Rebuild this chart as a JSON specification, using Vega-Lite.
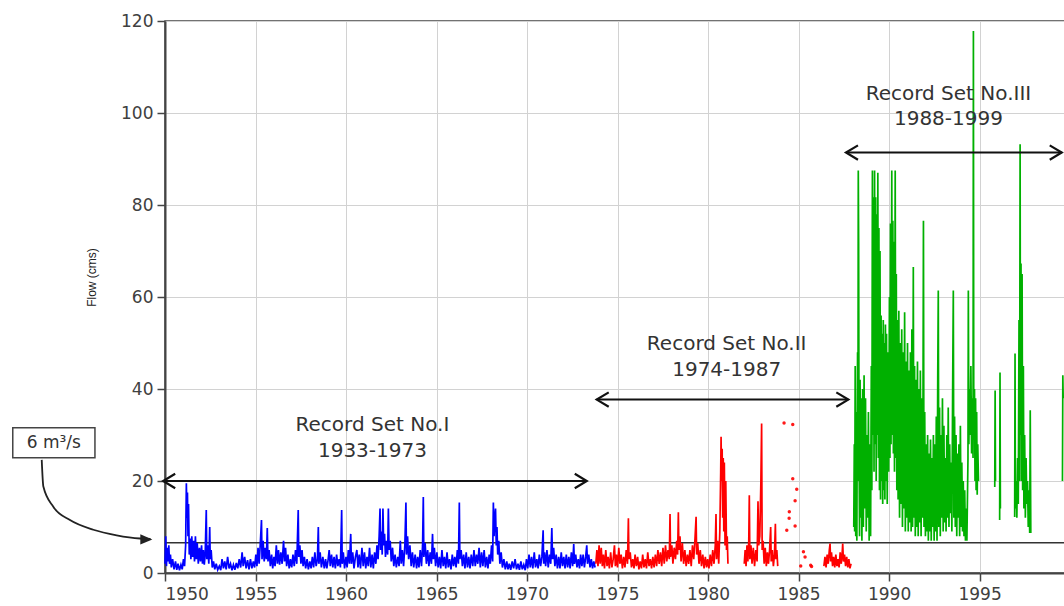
{
"$schema": "https://vega.github.io/schema/vega-lite/v6.json",
"width": 900, "height": 552,
"autosize": {"type": "none"},
"padding": {"left": 165, "top": 21, "right": 0, "bottom": 33},
"background": "white",
"config": {
  "view": {"stroke": "#444", "strokeWidth": 1.5},
  "axis": {"grid": true, "gridColor": "#d2d2d2", "gridWidth": 1, "domainColor": "#444", "domainWidth": 2, "tickColor": "#444", "tickWidth": 1.5, "tickSize": 8, "labelFont": "DejaVu Sans", "labelFontSize": 17, "labelColor": "#404040", "labelPadding": 4, "titleFont": "Liberation Sans", "titleFontSize": 12, "titleFontWeight": "normal", "titleColor": "#222"}
},
"datasets": {
"flow": [
{"t":1950.00,"q":2.0,"g":"I"},{"t":1950.04,"q":8.0,"g":"I"},{"t":1950.08,"q":1.5,"g":"I"},{"t":1950.12,"q":5.5,"g":"I"},{"t":1950.17,"q":2.5,"g":"I"},{"t":1950.21,"q":6.0,"g":"I"},{"t":1950.25,"q":2.0,"g":"I"},{"t":1950.30,"q":4.0,"g":"I"},{"t":1950.35,"q":1.2,"g":"I"},{"t":1950.42,"q":3.0,"g":"I"},{"t":1950.50,"q":0.8,"g":"I"},{"t":1950.58,"q":2.5,"g":"I"},{"t":1950.65,"q":0.7,"g":"I"},{"t":1950.72,"q":2.0,"g":"I"},{"t":1950.80,"q":0.6,"g":"I"},{"t":1950.88,"q":1.8,"g":"I"},{"t":1950.95,"q":0.8,"g":"I"},
{"t":1951.02,"q":3.0,"g":"I"},{"t":1951.08,"q":1.5,"g":"I"},{"t":1951.14,"q":6.0,"g":"I"},{"t":1951.18,"q":19.5,"g":"I"},{"t":1951.21,"q":12.0,"g":"I"},{"t":1951.24,"q":17.5,"g":"I"},{"t":1951.27,"q":8.0,"g":"I"},{"t":1951.30,"q":15.0,"g":"I"},{"t":1951.34,"q":4.0,"g":"I"},{"t":1951.38,"q":7.5,"g":"I"},{"t":1951.43,"q":3.0,"g":"I"},{"t":1951.48,"q":8.0,"g":"I"},{"t":1951.53,"q":3.5,"g":"I"},{"t":1951.58,"q":7.0,"g":"I"},{"t":1951.63,"q":2.5,"g":"I"},{"t":1951.68,"q":8.0,"g":"I"},{"t":1951.73,"q":3.0,"g":"I"},{"t":1951.78,"q":6.5,"g":"I"},{"t":1951.84,"q":2.0,"g":"I"},{"t":1951.90,"q":5.5,"g":"I"},{"t":1951.96,"q":2.5,"g":"I"},
{"t":1952.02,"q":6.0,"g":"I"},{"t":1952.07,"q":2.0,"g":"I"},{"t":1952.12,"q":5.0,"g":"I"},{"t":1952.17,"q":1.8,"g":"I"},{"t":1952.22,"q":4.0,"g":"I"},{"t":1952.28,"q":13.7,"g":"I"},{"t":1952.31,"q":3.0,"g":"I"},{"t":1952.36,"q":6.0,"g":"I"},{"t":1952.42,"q":2.0,"g":"I"},{"t":1952.47,"q":10.0,"g":"I"},{"t":1952.50,"q":3.0,"g":"I"},{"t":1952.55,"q":5.0,"g":"I"},{"t":1952.61,"q":1.2,"g":"I"},{"t":1952.68,"q":2.5,"g":"I"},{"t":1952.75,"q":0.8,"g":"I"},{"t":1952.83,"q":2.0,"g":"I"},{"t":1952.91,"q":0.7,"g":"I"},
{"t":1953.00,"q":1.5,"g":"I"},{"t":1953.08,"q":0.6,"g":"I"},{"t":1953.15,"q":3.0,"g":"I"},{"t":1953.23,"q":1.0,"g":"I"},{"t":1953.30,"q":2.5,"g":"I"},{"t":1953.38,"q":0.8,"g":"I"},{"t":1953.46,"q":3.5,"g":"I"},{"t":1953.54,"q":1.0,"g":"I"},{"t":1953.62,"q":2.0,"g":"I"},{"t":1953.70,"q":0.6,"g":"I"},{"t":1953.78,"q":1.8,"g":"I"},{"t":1953.86,"q":0.7,"g":"I"},{"t":1953.94,"q":2.2,"g":"I"},
{"t":1954.02,"q":1.0,"g":"I"},{"t":1954.10,"q":3.0,"g":"I"},{"t":1954.18,"q":1.2,"g":"I"},{"t":1954.26,"q":4.5,"g":"I"},{"t":1954.32,"q":1.5,"g":"I"},{"t":1954.40,"q":3.5,"g":"I"},{"t":1954.48,"q":1.0,"g":"I"},{"t":1954.56,"q":2.8,"g":"I"},{"t":1954.64,"q":0.8,"g":"I"},{"t":1954.72,"q":3.0,"g":"I"},{"t":1954.80,"q":1.0,"g":"I"},{"t":1954.88,"q":2.5,"g":"I"},{"t":1954.95,"q":1.2,"g":"I"},
{"t":1955.02,"q":4.0,"g":"I"},{"t":1955.08,"q":1.5,"g":"I"},{"t":1955.14,"q":5.5,"g":"I"},{"t":1955.20,"q":2.0,"g":"I"},{"t":1955.26,"q":6.0,"g":"I"},{"t":1955.33,"q":11.5,"g":"I"},{"t":1955.36,"q":3.0,"g":"I"},{"t":1955.42,"q":7.0,"g":"I"},{"t":1955.48,"q":2.5,"g":"I"},{"t":1955.54,"q":5.5,"g":"I"},{"t":1955.60,"q":3.0,"g":"I"},{"t":1955.65,"q":9.8,"g":"I"},{"t":1955.69,"q":2.5,"g":"I"},{"t":1955.75,"q":5.0,"g":"I"},{"t":1955.82,"q":1.5,"g":"I"},{"t":1955.89,"q":4.0,"g":"I"},{"t":1955.95,"q":1.0,"g":"I"},
{"t":1956.02,"q":3.5,"g":"I"},{"t":1956.08,"q":1.5,"g":"I"},{"t":1956.15,"q":6.0,"g":"I"},{"t":1956.21,"q":2.0,"g":"I"},{"t":1956.27,"q":5.0,"g":"I"},{"t":1956.33,"q":1.8,"g":"I"},{"t":1956.40,"q":4.5,"g":"I"},{"t":1956.47,"q":2.0,"g":"I"},{"t":1956.55,"q":7.0,"g":"I"},{"t":1956.60,"q":2.5,"g":"I"},{"t":1956.66,"q":5.5,"g":"I"},{"t":1956.72,"q":1.5,"g":"I"},{"t":1956.79,"q":4.0,"g":"I"},{"t":1956.86,"q":1.0,"g":"I"},{"t":1956.93,"q":3.0,"g":"I"},
{"t":1957.00,"q":1.2,"g":"I"},{"t":1957.07,"q":4.0,"g":"I"},{"t":1957.14,"q":1.5,"g":"I"},{"t":1957.21,"q":5.0,"g":"I"},{"t":1957.28,"q":2.0,"g":"I"},{"t":1957.36,"q":13.7,"g":"I"},{"t":1957.39,"q":3.5,"g":"I"},{"t":1957.45,"q":6.0,"g":"I"},{"t":1957.51,"q":2.0,"g":"I"},{"t":1957.57,"q":5.0,"g":"I"},{"t":1957.63,"q":1.5,"g":"I"},{"t":1957.70,"q":3.5,"g":"I"},{"t":1957.77,"q":1.0,"g":"I"},{"t":1957.85,"q":3.0,"g":"I"},{"t":1957.92,"q":0.8,"g":"I"},
{"t":1958.00,"q":2.5,"g":"I"},{"t":1958.07,"q":1.0,"g":"I"},{"t":1958.14,"q":3.5,"g":"I"},{"t":1958.21,"q":1.2,"g":"I"},{"t":1958.28,"q":4.5,"g":"I"},{"t":1958.35,"q":1.5,"g":"I"},{"t":1958.42,"q":3.0,"g":"I"},{"t":1958.47,"q":10.0,"g":"I"},{"t":1958.50,"q":2.0,"g":"I"},{"t":1958.57,"q":4.5,"g":"I"},{"t":1958.64,"q":1.2,"g":"I"},{"t":1958.72,"q":3.5,"g":"I"},{"t":1958.80,"q":1.0,"g":"I"},{"t":1958.87,"q":3.0,"g":"I"},{"t":1958.94,"q":1.0,"g":"I"},
{"t":1959.00,"q":2.5,"g":"I"},{"t":1959.07,"q":5.0,"g":"I"},{"t":1959.13,"q":1.5,"g":"I"},{"t":1959.20,"q":4.0,"g":"I"},{"t":1959.27,"q":1.2,"g":"I"},{"t":1959.34,"q":3.5,"g":"I"},{"t":1959.41,"q":1.0,"g":"I"},{"t":1959.48,"q":4.0,"g":"I"},{"t":1959.55,"q":1.5,"g":"I"},{"t":1959.62,"q":3.0,"g":"I"},{"t":1959.69,"q":1.2,"g":"I"},{"t":1959.76,"q":13.7,"g":"I"},{"t":1959.79,"q":2.0,"g":"I"},{"t":1959.85,"q":4.5,"g":"I"},{"t":1959.92,"q":1.0,"g":"I"},
{"t":1960.00,"q":3.5,"g":"I"},{"t":1960.06,"q":1.2,"g":"I"},{"t":1960.13,"q":5.0,"g":"I"},{"t":1960.19,"q":2.0,"g":"I"},{"t":1960.26,"q":8.5,"g":"I"},{"t":1960.30,"q":2.0,"g":"I"},{"t":1960.37,"q":4.5,"g":"I"},{"t":1960.44,"q":1.0,"g":"I"},{"t":1960.52,"q":3.5,"g":"I"},{"t":1960.60,"q":5.0,"g":"I"},{"t":1960.66,"q":1.2,"g":"I"},{"t":1960.73,"q":4.0,"g":"I"},{"t":1960.80,"q":1.0,"g":"I"},{"t":1960.88,"q":5.5,"g":"I"},{"t":1960.95,"q":1.5,"g":"I"},
{"t":1961.02,"q":4.5,"g":"I"},{"t":1961.09,"q":1.0,"g":"I"},{"t":1961.16,"q":3.5,"g":"I"},{"t":1961.23,"q":1.5,"g":"I"},{"t":1961.30,"q":5.5,"g":"I"},{"t":1961.37,"q":1.2,"g":"I"},{"t":1961.44,"q":4.0,"g":"I"},{"t":1961.51,"q":1.0,"g":"I"},{"t":1961.58,"q":4.5,"g":"I"},{"t":1961.65,"q":2.0,"g":"I"},{"t":1961.71,"q":6.0,"g":"I"},{"t":1961.77,"q":3.0,"g":"I"},{"t":1961.83,"q":8.0,"g":"I"},{"t":1961.88,"q":14.0,"g":"I"},{"t":1961.91,"q":5.0,"g":"I"},{"t":1961.96,"q":9.0,"g":"I"},
{"t":1962.00,"q":4.0,"g":"I"},{"t":1962.04,"q":14.0,"g":"I"},{"t":1962.08,"q":6.0,"g":"I"},{"t":1962.13,"q":8.5,"g":"I"},{"t":1962.18,"q":3.5,"g":"I"},{"t":1962.24,"q":7.0,"g":"I"},{"t":1962.30,"q":4.0,"g":"I"},{"t":1962.34,"q":14.0,"g":"I"},{"t":1962.38,"q":5.0,"g":"I"},{"t":1962.44,"q":7.0,"g":"I"},{"t":1962.50,"q":2.5,"g":"I"},{"t":1962.57,"q":5.5,"g":"I"},{"t":1962.64,"q":1.5,"g":"I"},{"t":1962.71,"q":4.0,"g":"I"},{"t":1962.78,"q":1.2,"g":"I"},{"t":1962.86,"q":3.5,"g":"I"},{"t":1962.93,"q":1.5,"g":"I"},
{"t":1963.00,"q":7.0,"g":"I"},{"t":1963.05,"q":2.0,"g":"I"},{"t":1963.11,"q":5.0,"g":"I"},{"t":1963.18,"q":1.5,"g":"I"},{"t":1963.25,"q":6.0,"g":"I"},{"t":1963.31,"q":15.3,"g":"I"},{"t":1963.34,"q":4.0,"g":"I"},{"t":1963.40,"q":8.0,"g":"I"},{"t":1963.46,"q":3.0,"g":"I"},{"t":1963.53,"q":6.0,"g":"I"},{"t":1963.60,"q":1.5,"g":"I"},{"t":1963.67,"q":4.5,"g":"I"},{"t":1963.74,"q":1.2,"g":"I"},{"t":1963.82,"q":4.0,"g":"I"},{"t":1963.90,"q":1.0,"g":"I"},{"t":1963.96,"q":3.5,"g":"I"},
{"t":1964.03,"q":1.2,"g":"I"},{"t":1964.10,"q":5.0,"g":"I"},{"t":1964.17,"q":1.5,"g":"I"},{"t":1964.23,"q":6.0,"g":"I"},{"t":1964.27,"q":16.5,"g":"I"},{"t":1964.30,"q":3.5,"g":"I"},{"t":1964.37,"q":6.5,"g":"I"},{"t":1964.44,"q":2.0,"g":"I"},{"t":1964.51,"q":5.0,"g":"I"},{"t":1964.58,"q":1.5,"g":"I"},{"t":1964.65,"q":4.5,"g":"I"},{"t":1964.72,"q":2.0,"g":"I"},{"t":1964.78,"q":8.5,"g":"I"},{"t":1964.82,"q":3.0,"g":"I"},{"t":1964.88,"q":5.5,"g":"I"},{"t":1964.95,"q":1.5,"g":"I"},
{"t":1965.02,"q":4.5,"g":"I"},{"t":1965.09,"q":1.2,"g":"I"},{"t":1965.16,"q":3.5,"g":"I"},{"t":1965.23,"q":1.0,"g":"I"},{"t":1965.30,"q":5.0,"g":"I"},{"t":1965.37,"q":1.5,"g":"I"},{"t":1965.44,"q":3.5,"g":"I"},{"t":1965.51,"q":1.0,"g":"I"},{"t":1965.58,"q":4.5,"g":"I"},{"t":1965.65,"q":1.2,"g":"I"},{"t":1965.72,"q":3.0,"g":"I"},{"t":1965.80,"q":0.8,"g":"I"},{"t":1965.87,"q":4.0,"g":"I"},{"t":1965.94,"q":1.5,"g":"I"},
{"t":1966.01,"q":3.5,"g":"I"},{"t":1966.08,"q":1.2,"g":"I"},{"t":1966.15,"q":5.0,"g":"I"},{"t":1966.21,"q":2.0,"g":"I"},{"t":1966.26,"q":15.3,"g":"I"},{"t":1966.29,"q":3.0,"g":"I"},{"t":1966.36,"q":5.0,"g":"I"},{"t":1966.43,"q":1.5,"g":"I"},{"t":1966.50,"q":4.0,"g":"I"},{"t":1966.57,"q":1.0,"g":"I"},{"t":1966.64,"q":4.5,"g":"I"},{"t":1966.71,"q":1.2,"g":"I"},{"t":1966.78,"q":3.5,"g":"I"},{"t":1966.85,"q":1.0,"g":"I"},{"t":1966.92,"q":4.0,"g":"I"},
{"t":1967.00,"q":1.5,"g":"I"},{"t":1967.07,"q":5.0,"g":"I"},{"t":1967.14,"q":1.5,"g":"I"},{"t":1967.21,"q":4.0,"g":"I"},{"t":1967.28,"q":2.0,"g":"I"},{"t":1967.35,"q":5.5,"g":"I"},{"t":1967.42,"q":1.2,"g":"I"},{"t":1967.49,"q":4.5,"g":"I"},{"t":1967.56,"q":1.5,"g":"I"},{"t":1967.63,"q":5.0,"g":"I"},{"t":1967.70,"q":1.2,"g":"I"},{"t":1967.77,"q":3.5,"g":"I"},{"t":1967.84,"q":1.0,"g":"I"},{"t":1967.91,"q":4.0,"g":"I"},{"t":1967.97,"q":2.0,"g":"I"},
{"t":1968.04,"q":6.0,"g":"I"},{"t":1968.10,"q":2.5,"g":"I"},{"t":1968.14,"q":15.3,"g":"I"},{"t":1968.18,"q":8.0,"g":"I"},{"t":1968.22,"q":12.0,"g":"I"},{"t":1968.26,"q":14.0,"g":"I"},{"t":1968.30,"q":6.0,"g":"I"},{"t":1968.34,"q":10.0,"g":"I"},{"t":1968.38,"q":4.0,"g":"I"},{"t":1968.44,"q":7.0,"g":"I"},{"t":1968.50,"q":2.0,"g":"I"},{"t":1968.57,"q":4.5,"g":"I"},{"t":1968.64,"q":1.2,"g":"I"},{"t":1968.72,"q":3.0,"g":"I"},{"t":1968.80,"q":0.8,"g":"I"},{"t":1968.88,"q":2.5,"g":"I"},{"t":1968.95,"q":0.8,"g":"I"},
{"t":1969.02,"q":2.0,"g":"I"},{"t":1969.10,"q":0.7,"g":"I"},{"t":1969.18,"q":2.5,"g":"I"},{"t":1969.26,"q":1.0,"g":"I"},{"t":1969.34,"q":3.0,"g":"I"},{"t":1969.42,"q":0.8,"g":"I"},{"t":1969.50,"q":2.0,"g":"I"},{"t":1969.58,"q":0.7,"g":"I"},{"t":1969.66,"q":2.5,"g":"I"},{"t":1969.74,"q":0.8,"g":"I"},{"t":1969.82,"q":1.8,"g":"I"},{"t":1969.90,"q":0.6,"g":"I"},{"t":1969.97,"q":3.0,"g":"I"},
{"t":1970.04,"q":1.0,"g":"I"},{"t":1970.11,"q":4.0,"g":"I"},{"t":1970.18,"q":1.2,"g":"I"},{"t":1970.25,"q":3.5,"g":"I"},{"t":1970.32,"q":1.0,"g":"I"},{"t":1970.40,"q":4.5,"g":"I"},{"t":1970.47,"q":1.2,"g":"I"},{"t":1970.54,"q":3.0,"g":"I"},{"t":1970.61,"q":1.0,"g":"I"},{"t":1970.68,"q":4.0,"g":"I"},{"t":1970.75,"q":1.5,"g":"I"},{"t":1970.82,"q":3.5,"g":"I"},{"t":1970.89,"q":9.3,"g":"I"},{"t":1970.92,"q":2.0,"g":"I"},{"t":1970.97,"q":4.5,"g":"I"},
{"t":1971.03,"q":1.5,"g":"I"},{"t":1971.10,"q":5.0,"g":"I"},{"t":1971.17,"q":1.2,"g":"I"},{"t":1971.24,"q":4.0,"g":"I"},{"t":1971.31,"q":2.0,"g":"I"},{"t":1971.37,"q":9.8,"g":"I"},{"t":1971.41,"q":3.0,"g":"I"},{"t":1971.47,"q":5.5,"g":"I"},{"t":1971.54,"q":1.5,"g":"I"},{"t":1971.61,"q":4.0,"g":"I"},{"t":1971.68,"q":1.0,"g":"I"},{"t":1971.75,"q":3.5,"g":"I"},{"t":1971.82,"q":1.0,"g":"I"},{"t":1971.89,"q":4.5,"g":"I"},{"t":1971.96,"q":1.5,"g":"I"},
{"t":1972.03,"q":3.5,"g":"I"},{"t":1972.10,"q":1.0,"g":"I"},{"t":1972.17,"q":4.0,"g":"I"},{"t":1972.24,"q":1.2,"g":"I"},{"t":1972.31,"q":3.5,"g":"I"},{"t":1972.38,"q":1.0,"g":"I"},{"t":1972.45,"q":4.5,"g":"I"},{"t":1972.52,"q":1.5,"g":"I"},{"t":1972.58,"q":6.3,"g":"I"},{"t":1972.62,"q":2.0,"g":"I"},{"t":1972.69,"q":4.0,"g":"I"},{"t":1972.76,"q":1.2,"g":"I"},{"t":1972.83,"q":3.0,"g":"I"},{"t":1972.90,"q":1.0,"g":"I"},{"t":1972.96,"q":4.0,"g":"I"},
{"t":1973.03,"q":1.5,"g":"I"},{"t":1973.10,"q":4.0,"g":"I"},{"t":1973.17,"q":1.2,"g":"I"},{"t":1973.24,"q":3.5,"g":"I"},{"t":1973.30,"q":6.0,"g":"I"},{"t":1973.34,"q":2.0,"g":"I"},{"t":1973.41,"q":4.0,"g":"I"},{"t":1973.48,"q":1.2,"g":"I"},{"t":1973.55,"q":3.0,"g":"I"},{"t":1973.62,"q":1.0,"g":"I"},{"t":1973.69,"q":2.5,"g":"I"},{"t":1973.76,"q":1.2,"g":"I"},
{"t":1973.80,"q":2.0,"g":"IIa"},{"t":1973.86,"q":5.0,"g":"IIa"},{"t":1973.92,"q":1.5,"g":"IIa"},{"t":1973.98,"q":6.0,"g":"IIa"},{"t":1974.04,"q":2.0,"g":"IIa"},{"t":1974.10,"q":5.5,"g":"IIa"},{"t":1974.16,"q":1.5,"g":"IIa"},{"t":1974.22,"q":4.0,"g":"IIa"},{"t":1974.28,"q":1.0,"g":"IIa"},{"t":1974.35,"q":5.0,"g":"IIa"},{"t":1974.42,"q":1.5,"g":"IIa"},{"t":1974.48,"q":3.5,"g":"IIa"},{"t":1974.55,"q":1.0,"g":"IIa"},{"t":1974.62,"q":4.5,"g":"IIa"},{"t":1974.69,"q":1.2,"g":"IIa"},{"t":1974.76,"q":3.0,"g":"IIa"},{"t":1974.83,"q":6.0,"g":"IIa"},{"t":1974.88,"q":1.5,"g":"IIa"},{"t":1974.94,"q":4.0,"g":"IIa"},
{"t":1975.00,"q":1.2,"g":"IIa"},{"t":1975.07,"q":5.5,"g":"IIa"},{"t":1975.13,"q":2.0,"g":"IIa"},{"t":1975.20,"q":4.0,"g":"IIa"},{"t":1975.27,"q":1.0,"g":"IIa"},{"t":1975.34,"q":3.5,"g":"IIa"},{"t":1975.41,"q":1.2,"g":"IIa"},{"t":1975.48,"q":5.0,"g":"IIa"},{"t":1975.55,"q":2.0,"g":"IIa"},{"t":1975.60,"q":11.9,"g":"IIa"},{"t":1975.63,"q":3.0,"g":"IIa"},{"t":1975.70,"q":4.5,"g":"IIa"},{"t":1975.77,"q":1.2,"g":"IIa"},{"t":1975.84,"q":3.0,"g":"IIa"},{"t":1975.91,"q":1.0,"g":"IIa"},{"t":1975.97,"q":4.0,"g":"IIa"},
{"t":1976.04,"q":1.5,"g":"IIa"},{"t":1976.11,"q":3.5,"g":"IIa"},{"t":1976.18,"q":0.8,"g":"IIa"},{"t":1976.25,"q":2.5,"g":"IIa"},{"t":1976.32,"q":1.0,"g":"IIa"},{"t":1976.39,"q":4.0,"g":"IIa"},{"t":1976.46,"q":1.2,"g":"IIa"},{"t":1976.53,"q":3.0,"g":"IIa"},{"t":1976.60,"q":1.0,"g":"IIa"},{"t":1976.67,"q":4.5,"g":"IIa"},{"t":1976.74,"q":1.5,"g":"IIa"},{"t":1976.81,"q":3.0,"g":"IIa"},{"t":1976.88,"q":1.0,"g":"IIa"},{"t":1976.95,"q":3.5,"g":"IIa"},
{"t":1977.02,"q":1.2,"g":"IIa"},{"t":1977.09,"q":4.0,"g":"IIa"},{"t":1977.16,"q":1.5,"g":"IIa"},{"t":1977.23,"q":5.0,"g":"IIa"},{"t":1977.30,"q":2.0,"g":"IIa"},{"t":1977.37,"q":4.5,"g":"IIa"},{"t":1977.44,"q":1.5,"g":"IIa"},{"t":1977.51,"q":5.5,"g":"IIa"},{"t":1977.58,"q":2.0,"g":"IIa"},{"t":1977.65,"q":6.0,"g":"IIa"},{"t":1977.72,"q":2.5,"g":"IIa"},{"t":1977.79,"q":5.0,"g":"IIa"},{"t":1977.86,"q":3.0,"g":"IIa"},{"t":1977.90,"q":12.8,"g":"IIa"},{"t":1977.93,"q":3.5,"g":"IIa"},
{"t":1978.00,"q":6.0,"g":"IIa"},{"t":1978.06,"q":2.0,"g":"IIa"},{"t":1978.13,"q":5.5,"g":"IIa"},{"t":1978.20,"q":3.0,"g":"IIa"},{"t":1978.27,"q":7.0,"g":"IIa"},{"t":1978.32,"q":4.0,"g":"IIa"},{"t":1978.36,"q":13.2,"g":"IIa"},{"t":1978.39,"q":5.0,"g":"IIa"},{"t":1978.45,"q":8.0,"g":"IIa"},{"t":1978.51,"q":2.5,"g":"IIa"},{"t":1978.58,"q":6.5,"g":"IIa"},{"t":1978.65,"q":2.0,"g":"IIa"},{"t":1978.72,"q":5.0,"g":"IIa"},{"t":1978.79,"q":1.5,"g":"IIa"},{"t":1978.86,"q":4.0,"g":"IIa"},{"t":1978.93,"q":2.0,"g":"IIa"},
{"t":1979.00,"q":5.0,"g":"IIa"},{"t":1979.07,"q":1.5,"g":"IIa"},{"t":1979.14,"q":6.0,"g":"IIa"},{"t":1979.21,"q":3.0,"g":"IIa"},{"t":1979.28,"q":7.5,"g":"IIa"},{"t":1979.34,"q":12.2,"g":"IIa"},{"t":1979.37,"q":4.0,"g":"IIa"},{"t":1979.43,"q":6.5,"g":"IIa"},{"t":1979.50,"q":2.0,"g":"IIa"},{"t":1979.57,"q":5.0,"g":"IIa"},{"t":1979.64,"q":1.5,"g":"IIa"},{"t":1979.71,"q":4.0,"g":"IIa"},{"t":1979.78,"q":1.0,"g":"IIa"},{"t":1979.85,"q":3.5,"g":"IIa"},{"t":1979.92,"q":1.2,"g":"IIa"},{"t":1979.98,"q":3.0,"g":"IIa"},
{"t":1980.05,"q":1.0,"g":"IIa"},{"t":1980.12,"q":4.0,"g":"IIa"},{"t":1980.19,"q":1.5,"g":"IIa"},{"t":1980.26,"q":5.0,"g":"IIa"},{"t":1980.33,"q":2.0,"g":"IIa"},{"t":1980.40,"q":6.0,"g":"IIa"},{"t":1980.44,"q":12.8,"g":"IIa"},{"t":1980.47,"q":3.0,"g":"IIa"},{"t":1980.53,"q":7.0,"g":"IIa"},{"t":1980.59,"q":2.0,"g":"IIa"},{"t":1980.65,"q":9.0,"g":"IIa"},{"t":1980.70,"q":22.0,"g":"IIa"},{"t":1980.72,"q":29.6,"g":"IIa"},{"t":1980.75,"q":20.0,"g":"IIa"},{"t":1980.78,"q":27.0,"g":"IIa"},{"t":1980.81,"q":12.0,"g":"IIa"},{"t":1980.84,"q":25.0,"g":"IIa"},{"t":1980.87,"q":9.0,"g":"IIa"},{"t":1980.90,"q":24.0,"g":"IIa"},{"t":1980.94,"q":6.0,"g":"IIa"},{"t":1980.98,"q":20.0,"g":"IIa"},{"t":1981.02,"q":5.0,"g":"IIa"},{"t":1981.06,"q":8.0,"g":"IIa"},{"t":1981.10,"q":2.0,"g":"IIa"},
{"t":1982.00,"q":2.0,"g":"IIb"},{"t":1982.05,"q":5.0,"g":"IIb"},{"t":1982.10,"q":1.5,"g":"IIb"},{"t":1982.15,"q":6.0,"g":"IIb"},{"t":1982.20,"q":2.5,"g":"IIb"},{"t":1982.25,"q":7.0,"g":"IIb"},{"t":1982.28,"q":16.9,"g":"IIb"},{"t":1982.31,"q":3.0,"g":"IIb"},{"t":1982.37,"q":6.0,"g":"IIb"},{"t":1982.43,"q":2.0,"g":"IIb"},{"t":1982.50,"q":5.5,"g":"IIb"},{"t":1982.57,"q":1.5,"g":"IIb"},{"t":1982.64,"q":5.0,"g":"IIb"},{"t":1982.71,"q":2.5,"g":"IIb"},{"t":1982.76,"q":15.6,"g":"IIb"},{"t":1982.80,"q":6.0,"g":"IIb"},{"t":1982.86,"q":8.0,"g":"IIb"},{"t":1982.92,"q":20.0,"g":"IIb"},{"t":1982.96,"q":32.5,"g":"IIb"},{"t":1982.99,"q":5.0,"g":"IIb"},
{"t":1983.04,"q":7.0,"g":"IIb"},{"t":1983.10,"q":2.0,"g":"IIb"},{"t":1983.16,"q":5.5,"g":"IIb"},{"t":1983.22,"q":1.5,"g":"IIb"},{"t":1983.28,"q":4.5,"g":"IIb"},{"t":1983.34,"q":2.0,"g":"IIb"},{"t":1983.40,"q":5.0,"g":"IIb"},{"t":1983.46,"q":10.0,"g":"IIb"},{"t":1983.49,"q":2.5,"g":"IIb"},{"t":1983.55,"q":5.0,"g":"IIb"},{"t":1983.61,"q":1.5,"g":"IIb"},{"t":1983.67,"q":4.0,"g":"IIb"},{"t":1983.72,"q":10.7,"g":"IIb"},{"t":1983.75,"q":3.0,"g":"IIb"},{"t":1983.80,"q":5.0,"g":"IIb"},{"t":1983.85,"q":1.5,"g":"IIb"},
{"t":1986.40,"q":1.5,"g":"IIc"},{"t":1986.46,"q":3.5,"g":"IIc"},{"t":1986.52,"q":1.2,"g":"IIc"},{"t":1986.58,"q":4.0,"g":"IIc"},{"t":1986.64,"q":2.0,"g":"IIc"},{"t":1986.70,"q":5.0,"g":"IIc"},{"t":1986.74,"q":6.4,"g":"IIc"},{"t":1986.77,"q":2.5,"g":"IIc"},{"t":1986.82,"q":4.5,"g":"IIc"},{"t":1986.88,"q":1.5,"g":"IIc"},{"t":1986.94,"q":3.5,"g":"IIc"},{"t":1987.00,"q":1.2,"g":"IIc"},{"t":1987.06,"q":4.0,"g":"IIc"},{"t":1987.12,"q":1.5,"g":"IIc"},{"t":1987.18,"q":3.0,"g":"IIc"},{"t":1987.24,"q":1.2,"g":"IIc"},{"t":1987.30,"q":4.5,"g":"IIc"},{"t":1987.36,"q":2.0,"g":"IIc"},{"t":1987.42,"q":5.0,"g":"IIc"},{"t":1987.44,"q":6.4,"g":"IIc"},{"t":1987.48,"q":2.5,"g":"IIc"},{"t":1987.54,"q":4.0,"g":"IIc"},{"t":1987.60,"q":1.5,"g":"IIc"},{"t":1987.66,"q":3.5,"g":"IIc"},{"t":1987.72,"q":1.2,"g":"IIc"},{"t":1987.78,"q":3.0,"g":"IIc"},{"t":1987.84,"q":1.0,"g":"IIc"},{"t":1987.90,"q":2.0,"g":"IIc"},
{"t":1988.05,"q":10,"g":"IIIa"},{"t":1988.08,"q":28,"g":"IIIa"},{"t":1988.10,"q":9,"g":"IIIa"},{"t":1988.13,"q":45,"g":"IIIa"},{"t":1988.16,"q":8,"g":"IIIa"},{"t":1988.19,"q":35,"g":"IIIa"},{"t":1988.22,"q":7,"g":"IIIa"},{"t":1988.26,"q":48,"g":"IIIa"},{"t":1988.28,"q":20,"g":"IIIa"},{"t":1988.30,"q":87.5,"g":"IIIa"},{"t":1988.32,"q":71.6,"g":"IIIa"},{"t":1988.34,"q":30,"g":"IIIa"},{"t":1988.37,"q":8,"g":"IIIa"},{"t":1988.40,"q":42,"g":"IIIa"},{"t":1988.43,"q":12,"g":"IIIa"},{"t":1988.46,"q":38,"g":"IIIa"},{"t":1988.50,"q":7,"g":"IIIa"},{"t":1988.54,"q":40,"g":"IIIa"},{"t":1988.58,"q":10,"g":"IIIa"},{"t":1988.62,"q":43,"g":"IIIa"},{"t":1988.66,"q":14,"g":"IIIa"},{"t":1988.70,"q":38,"g":"IIIa"},{"t":1988.74,"q":9,"g":"IIIa"},{"t":1988.78,"q":30,"g":"IIIa"},{"t":1988.82,"q":12,"g":"IIIa"},{"t":1988.86,"q":35,"g":"IIIa"},{"t":1988.90,"q":7,"g":"IIIa"},{"t":1988.94,"q":28,"g":"IIIa"},{"t":1988.98,"q":8,"g":"IIIa"},
{"t":1989.02,"q":45,"g":"IIIa"},{"t":1989.05,"q":18,"g":"IIIa"},{"t":1989.08,"q":87.5,"g":"IIIa"},{"t":1989.11,"q":30,"g":"IIIa"},{"t":1989.14,"q":81.7,"g":"IIIa"},{"t":1989.17,"q":22,"g":"IIIa"},{"t":1989.20,"q":87.5,"g":"IIIa"},{"t":1989.23,"q":28,"g":"IIIa"},{"t":1989.26,"q":81.7,"g":"IIIa"},{"t":1989.29,"q":20,"g":"IIIa"},{"t":1989.32,"q":78,"g":"IIIa"},{"t":1989.35,"q":30,"g":"IIIa"},{"t":1989.38,"q":87,"g":"IIIa"},{"t":1989.41,"q":25,"g":"IIIa"},{"t":1989.44,"q":75,"g":"IIIa"},{"t":1989.47,"q":18,"g":"IIIa"},{"t":1989.50,"q":70,"g":"IIIa"},{"t":1989.53,"q":16,"g":"IIIa"},{"t":1989.56,"q":56,"g":"IIIa"},{"t":1989.59,"q":20,"g":"IIIa"},{"t":1989.62,"q":52,"g":"IIIa"},{"t":1989.65,"q":15,"g":"IIIa"},{"t":1989.68,"q":55,"g":"IIIa"},{"t":1989.71,"q":18,"g":"IIIa"},{"t":1989.74,"q":50,"g":"IIIa"},{"t":1989.77,"q":16,"g":"IIIa"},{"t":1989.80,"q":54,"g":"IIIa"},{"t":1989.83,"q":20,"g":"IIIa"},{"t":1989.86,"q":52,"g":"IIIa"},{"t":1989.90,"q":15,"g":"IIIa"},{"t":1989.94,"q":48,"g":"IIIa"},{"t":1989.98,"q":22,"g":"IIIa"},
{"t":1990.02,"q":60,"g":"IIIa"},{"t":1990.05,"q":25,"g":"IIIa"},{"t":1990.08,"q":76,"g":"IIIa"},{"t":1990.11,"q":28,"g":"IIIa"},{"t":1990.15,"q":87.5,"g":"IIIa"},{"t":1990.18,"q":30,"g":"IIIa"},{"t":1990.21,"q":76.6,"g":"IIIa"},{"t":1990.24,"q":26,"g":"IIIa"},{"t":1990.27,"q":72,"g":"IIIa"},{"t":1990.30,"q":22,"g":"IIIa"},{"t":1990.34,"q":87.5,"g":"IIIa"},{"t":1990.37,"q":25,"g":"IIIa"},{"t":1990.40,"q":65,"g":"IIIa"},{"t":1990.43,"q":18,"g":"IIIa"},{"t":1990.47,"q":55,"g":"IIIa"},{"t":1990.50,"q":16,"g":"IIIa"},{"t":1990.54,"q":57,"g":"IIIa"},{"t":1990.58,"q":12,"g":"IIIa"},{"t":1990.62,"q":50,"g":"IIIa"},{"t":1990.66,"q":15,"g":"IIIa"},{"t":1990.70,"q":53,"g":"IIIa"},{"t":1990.74,"q":10,"g":"IIIa"},{"t":1990.78,"q":48,"g":"IIIa"},{"t":1990.82,"q":14,"g":"IIIa"},{"t":1990.86,"q":56.7,"g":"IIIa"},{"t":1990.90,"q":9,"g":"IIIa"},{"t":1990.94,"q":46,"g":"IIIa"},{"t":1990.98,"q":12,"g":"IIIa"},
{"t":1991.02,"q":50,"g":"IIIa"},{"t":1991.06,"q":9,"g":"IIIa"},{"t":1991.10,"q":44,"g":"IIIa"},{"t":1991.14,"q":11,"g":"IIIa"},{"t":1991.18,"q":48,"g":"IIIa"},{"t":1991.22,"q":9,"g":"IIIa"},{"t":1991.26,"q":53,"g":"IIIa"},{"t":1991.30,"q":10,"g":"IIIa"},{"t":1991.34,"q":66.5,"g":"IIIa"},{"t":1991.37,"q":12,"g":"IIIa"},{"t":1991.41,"q":45,"g":"IIIa"},{"t":1991.45,"q":8,"g":"IIIa"},{"t":1991.49,"q":42,"g":"IIIa"},{"t":1991.53,"q":10,"g":"IIIa"},{"t":1991.57,"q":46,"g":"IIIa"},{"t":1991.61,"q":8,"g":"IIIa"},{"t":1991.65,"q":40,"g":"IIIa"},{"t":1991.69,"q":11,"g":"IIIa"},{"t":1991.73,"q":44,"g":"IIIa"},{"t":1991.77,"q":8,"g":"IIIa"},{"t":1991.81,"q":38,"g":"IIIa"},{"t":1991.86,"q":12,"g":"IIIa"},{"t":1991.90,"q":76.6,"g":"IIIa"},{"t":1991.93,"q":10,"g":"IIIa"},{"t":1991.97,"q":35,"g":"IIIa"},
{"t":1992.01,"q":8,"g":"IIIa"},{"t":1992.05,"q":28,"g":"IIIa"},{"t":1992.09,"q":9,"g":"IIIa"},{"t":1992.13,"q":30,"g":"IIIa"},{"t":1992.17,"q":7,"g":"IIIa"},{"t":1992.21,"q":26,"g":"IIIa"},{"t":1992.25,"q":9,"g":"IIIa"},{"t":1992.29,"q":29,"g":"IIIa"},{"t":1992.33,"q":7,"g":"IIIa"},{"t":1992.37,"q":25,"g":"IIIa"},{"t":1992.41,"q":10,"g":"IIIa"},{"t":1992.45,"q":30,"g":"IIIa"},{"t":1992.49,"q":7,"g":"IIIa"},{"t":1992.53,"q":28,"g":"IIIa"},{"t":1992.57,"q":9,"g":"IIIa"},{"t":1992.61,"q":34,"g":"IIIa"},{"t":1992.65,"q":7,"g":"IIIa"},{"t":1992.69,"q":43,"g":"IIIa"},{"t":1992.72,"q":61.4,"g":"IIIa"},{"t":1992.75,"q":10,"g":"IIIa"},{"t":1992.79,"q":36,"g":"IIIa"},{"t":1992.83,"q":8,"g":"IIIa"},{"t":1992.87,"q":30,"g":"IIIa"},{"t":1992.91,"q":12,"g":"IIIa"},{"t":1992.95,"q":38,"g":"IIIa"},{"t":1992.99,"q":9,"g":"IIIa"},
{"t":1993.03,"q":32,"g":"IIIa"},{"t":1993.07,"q":11,"g":"IIIa"},{"t":1993.11,"q":25,"g":"IIIa"},{"t":1993.15,"q":9,"g":"IIIa"},{"t":1993.19,"q":30,"g":"IIIa"},{"t":1993.23,"q":12,"g":"IIIa"},{"t":1993.27,"q":36,"g":"IIIa"},{"t":1993.31,"q":10,"g":"IIIa"},{"t":1993.35,"q":28,"g":"IIIa"},{"t":1993.39,"q":13,"g":"IIIa"},{"t":1993.43,"q":24,"g":"IIIa"},{"t":1993.47,"q":9,"g":"IIIa"},{"t":1993.51,"q":38,"g":"IIIa"},{"t":1993.55,"q":61.4,"g":"IIIa"},{"t":1993.58,"q":12,"g":"IIIa"},{"t":1993.62,"q":34,"g":"IIIa"},{"t":1993.66,"q":10,"g":"IIIa"},{"t":1993.70,"q":30,"g":"IIIa"},{"t":1993.74,"q":8,"g":"IIIa"},{"t":1993.78,"q":26,"g":"IIIa"},{"t":1993.82,"q":12,"g":"IIIa"},{"t":1993.86,"q":28,"g":"IIIa"},{"t":1993.90,"q":8,"g":"IIIa"},{"t":1993.94,"q":32,"g":"IIIa"},{"t":1993.98,"q":10,"g":"IIIa"},
{"t":1994.02,"q":24,"g":"IIIa"},{"t":1994.06,"q":9,"g":"IIIa"},{"t":1994.10,"q":20,"g":"IIIa"},{"t":1994.14,"q":8,"g":"IIIa"},{"t":1994.18,"q":18,"g":"IIIa"},{"t":1994.22,"q":7,"g":"IIIa"},{"t":1994.26,"q":14,"g":"IIIa"},{"t":1994.30,"q":7,"g":"IIIa"},{"t":1994.36,"q":25,"g":"IIIa"},{"t":1994.38,"q":61.4,"g":"IIIa"},{"t":1994.41,"q":28,"g":"IIIa"},{"t":1994.45,"q":40,"g":"IIIa"},{"t":1994.48,"q":30,"g":"IIIa"},{"t":1994.52,"q":45,"g":"IIIa"},{"t":1994.56,"q":26,"g":"IIIa"},{"t":1994.60,"q":38,"g":"IIIa"},{"t":1994.64,"q":25,"g":"IIIa"},{"t":1994.66,"q":117.8,"g":"IIIa"},{"t":1994.68,"q":30,"g":"IIIa"},{"t":1994.72,"q":40,"g":"IIIa"},{"t":1994.75,"q":20,"g":"IIIa"},{"t":1994.78,"q":38,"g":"IIIa"},{"t":1994.81,"q":18,"g":"IIIa"},{"t":1994.84,"q":35,"g":"IIIa"},{"t":1994.87,"q":17,"g":"IIIa"},{"t":1994.90,"q":28,"g":"IIIa"},{"t":1994.94,"q":20,"g":"IIIa"},
{"t":1995.84,"q":18.7,"g":"IIIb"},{"t":1995.86,"q":39.7,"g":"IIIb"},{"t":1995.88,"q":20,"g":"IIIb"},
{"t":1996.11,"q":11.5,"g":"IIIc"},{"t":1996.13,"q":43.6,"g":"IIIc"},{"t":1996.15,"q":14,"g":"IIIc"},
{"t":1996.94,"q":12.2,"g":"IIId"},{"t":1996.96,"q":47.7,"g":"IIId"},{"t":1996.98,"q":14,"g":"IIId"},{"t":1997.02,"q":20,"g":"IIId"},{"t":1997.06,"q":12,"g":"IIId"},{"t":1997.10,"q":25,"g":"IIId"},{"t":1997.14,"q":15,"g":"IIId"},{"t":1997.18,"q":55,"g":"IIId"},{"t":1997.21,"q":20,"g":"IIId"},{"t":1997.24,"q":93.2,"g":"IIId"},{"t":1997.26,"q":30,"g":"IIId"},{"t":1997.29,"q":67.3,"g":"IIId"},{"t":1997.32,"q":20,"g":"IIId"},{"t":1997.35,"q":65,"g":"IIId"},{"t":1997.38,"q":18,"g":"IIId"},{"t":1997.42,"q":45,"g":"IIId"},{"t":1997.45,"q":14,"g":"IIId"},{"t":1997.49,"q":30,"g":"IIId"},{"t":1997.53,"q":12,"g":"IIId"},{"t":1997.57,"q":25,"g":"IIId"},{"t":1997.61,"q":15,"g":"IIId"},{"t":1997.65,"q":20,"g":"IIId"},{"t":1997.69,"q":10,"g":"IIId"},{"t":1997.73,"q":18,"g":"IIId"},{"t":1997.77,"q":8.7,"g":"IIId"},{"t":1997.80,"q":35.4,"g":"IIId"},{"t":1997.83,"q":8.7,"g":"IIId"},
{"t":1999.58,"q":20,"g":"IIIe"},{"t":1999.60,"q":43,"g":"IIIe"},{"t":1999.62,"q":38,"g":"IIIe"}
],
"dots": [
{"t":1984.20,"q":32.6},{"t":1984.68,"q":32.3},{"t":1984.68,"q":20.5},{"t":1984.90,"q":18.2},{"t":1984.81,"q":15.7},{"t":1984.49,"q":13.3},{"t":1984.48,"q":11.9},{"t":1984.81,"q":10.2},{"t":1984.35,"q":9.3},{"t":1985.27,"q":4.6},{"t":1985.36,"q":3.5},{"t":1985.12,"q":1.5},{"t":1985.67,"q":1.7},{"t":1985.72,"q":1.4}
],
"arrows": [
{"t":1949.9,"t2":1973.3,"q":20},
{"t":1973.85,"t2":1987.75,"q":37.7},
{"t":1987.62,"t2":1999.54,"q":91.4}
],
"labels": [
{"t":1961.46,"q":32.2,"txt":"Record Set No.I"},{"t":1961.46,"q":26.6,"txt":"1933-1973"},
{"t":1981.03,"q":49.7,"txt":"Record Set No.II"},{"t":1981.03,"q":44.2,"txt":"1974-1987"},
{"t":1993.28,"q":104.1,"txt":"Record Set No.III"},{"t":1993.28,"q":98.7,"txt":"1988-1999"}
],
"curve": [
{"t":1943.19,"q":24.6},{"t":1943.28,"q":18.8},{"t":1943.83,"q":14.4},{"t":1944.75,"q":11.5},{"t":1946.04,"q":9.4},{"t":1947.33,"q":8.2},{"t":1948.62,"q":7.5},{"t":1949.2,"q":7.4}
]
},
"layer": [
{
  "data": {"values": [{"q": 6.6}]},
  "mark": {"type": "rule", "color": "#333", "strokeWidth": 1.5},
  "encoding": {"y": {"field": "q", "type": "quantitative", "scale": {"domain": [0, 120], "nice": false, "zero": false}}}
},
{
  "data": {"name": "flow"},
  "mark": {"type": "line", "strokeWidth": 1.7},
  "encoding": {
    "x": {"field": "t", "type": "quantitative", "scale": {"domain": [1950, 1999.72], "nice": false, "zero": false},
          "axis": {"values": [1950,1955,1960,1965,1970,1975,1980,1985,1990,1995], "format": "d", "title": null, "labelPadding": 5}},
    "y": {"field": "q", "type": "quantitative", "scale": {"domain": [0, 120], "nice": false, "zero": false},
          "axis": {"values": [0,20,40,60,80,100,120], "title": "Flow (cms)", "titleX": -74, "titleY": 256, "titleAngle": -90, "titleAlign": "center", "titleBaseline": "middle"}},
    "color": {"field": "g", "type": "nominal", "legend": null,
              "scale": {"domain": ["I","IIa","IIb","IIc","IIIa","IIIb","IIIc","IIId","IIIe"], "range": ["#0000ff","#ff0000","#ff0000","#ff0000","#00b000","#00b000","#00b000","#00b000","#00b000"]}},
    "detail": {"field": "g"},
    "order": {"field": "t", "type": "quantitative"}
  }
},
{
  "data": {"name": "dots"},
  "mark": {"type": "point", "filled": true, "color": "#ff0000", "size": 12, "opacity": 0.9},
  "encoding": {
    "x": {"field": "t", "type": "quantitative", "scale": {"domain": [1950, 1999.72], "nice": false, "zero": false}},
    "y": {"field": "q", "type": "quantitative", "scale": {"domain": [0, 120], "nice": false, "zero": false}}
  }
},
{
  "data": {"name": "arrows"},
  "mark": {"type": "rule", "color": "#111", "strokeWidth": 2},
  "encoding": {
    "x": {"field": "t", "type": "quantitative", "scale": {"domain": [1950, 1999.72], "nice": false, "zero": false}},
    "x2": {"field": "t2"},
    "y": {"field": "q", "type": "quantitative", "scale": {"domain": [0, 120], "nice": false, "zero": false}}
  }
},
{
  "data": {"name": "arrows"},
  "mark": {"type": "point", "shape": "M 2 -1.2 L 0 0 L 2 1.2", "size": 144, "filled": false, "stroke": "#111", "strokeWidth": 2.2, "opacity": 1},
  "encoding": {
    "x": {"field": "t", "type": "quantitative", "scale": {"domain": [1950, 1999.72], "nice": false, "zero": false}},
    "y": {"field": "q", "type": "quantitative", "scale": {"domain": [0, 120], "nice": false, "zero": false}}
  }
},
{
  "data": {"name": "arrows"},
  "mark": {"type": "point", "shape": "M -2 -1.2 L 0 0 L -2 1.2", "size": 144, "filled": false, "stroke": "#111", "strokeWidth": 2.2, "opacity": 1},
  "encoding": {
    "x": {"field": "t2", "type": "quantitative", "scale": {"domain": [1950, 1999.72], "nice": false, "zero": false}},
    "y": {"field": "q", "type": "quantitative", "scale": {"domain": [0, 120], "nice": false, "zero": false}}
  }
},
{
  "data": {"name": "labels"},
  "mark": {"type": "text", "font": "DejaVu Sans", "fontSize": 20, "color": "#333", "align": "center", "baseline": "middle"},
  "encoding": {
    "x": {"field": "t", "type": "quantitative", "scale": {"domain": [1950, 1999.72], "nice": false, "zero": false}},
    "y": {"field": "q", "type": "quantitative", "scale": {"domain": [0, 120], "nice": false, "zero": false}},
    "text": {"field": "txt"}
  }
},
{
  "data": {"values": [{"t": 1941.59, "t2": 1946.13, "q": 31.6, "q2": 25.05}]},
  "mark": {"type": "rect", "fill": "white", "stroke": "#444", "strokeWidth": 1.5},
  "encoding": {
    "x": {"field": "t", "type": "quantitative", "scale": {"domain": [1950, 1999.72], "nice": false, "zero": false}},
    "x2": {"field": "t2"},
    "y": {"field": "q", "type": "quantitative", "scale": {"domain": [0, 120], "nice": false, "zero": false}},
    "y2": {"field": "q2"}
  }
},
{
  "data": {"values": [{"t": 1943.86, "q": 28.3, "txt": "6 m³/s"}]},
  "mark": {"type": "text", "font": "DejaVu Sans", "fontSize": 17, "color": "#333", "align": "center", "baseline": "middle"},
  "encoding": {
    "x": {"field": "t", "type": "quantitative", "scale": {"domain": [1950, 1999.72], "nice": false, "zero": false}},
    "y": {"field": "q", "type": "quantitative", "scale": {"domain": [0, 120], "nice": false, "zero": false}},
    "text": {"field": "txt"}
  }
},
{
  "data": {"name": "curve"},
  "mark": {"type": "line", "color": "#222", "strokeWidth": 1.8, "interpolate": "monotone"},
  "encoding": {
    "x": {"field": "t", "type": "quantitative", "scale": {"domain": [1950, 1999.72], "nice": false, "zero": false}},
    "y": {"field": "q", "type": "quantitative", "scale": {"domain": [0, 120], "nice": false, "zero": false}}
  }
},
{
  "data": {"values": [{"t": 1949.3, "q": 7.3}]},
  "mark": {"type": "point", "shape": "M 0 0 L -2 -0.85 L -2 0.85 Z", "size": 144, "filled": true, "color": "#222", "opacity": 1},
  "encoding": {
    "x": {"field": "t", "type": "quantitative", "scale": {"domain": [1950, 1999.72], "nice": false, "zero": false}},
    "y": {"field": "q", "type": "quantitative", "scale": {"domain": [0, 120], "nice": false, "zero": false}}
  }
}
]
}
